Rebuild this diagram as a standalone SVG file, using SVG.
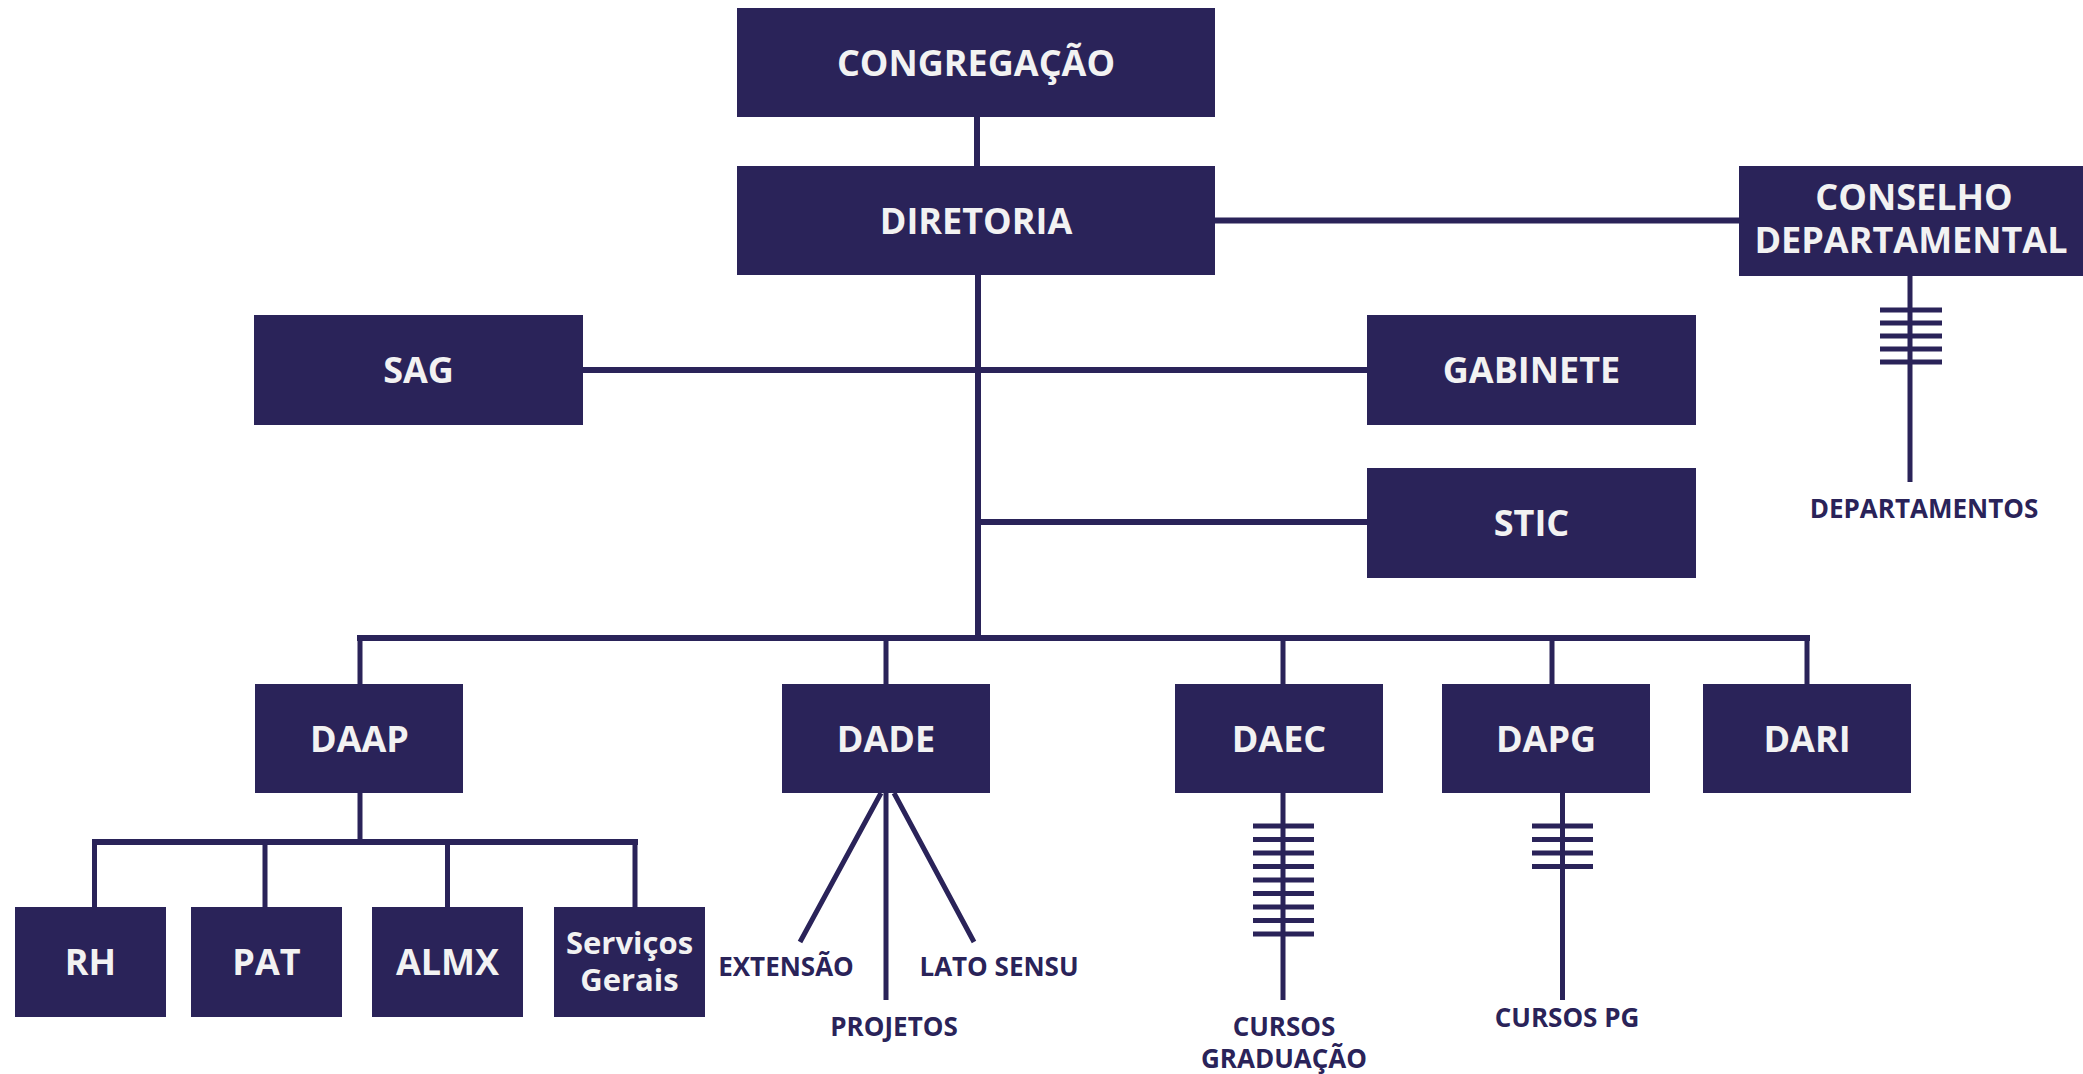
<svg xmlns="http://www.w3.org/2000/svg" width="2083" height="1074" viewBox="0 0 2083 1074">
<style>
.box{fill:#2a2359}
.bt{font-family:"Open Sans","Noto Sans",sans-serif;font-weight:700;font-size:36px;fill:#f2f2f2;text-anchor:middle}
.st{font-size:31px}
.lb{font-family:"Open Sans","Noto Sans",sans-serif;font-weight:700;font-size:26px;fill:#2a2359;text-anchor:middle}
.ln{stroke:#2a2359;stroke-width:6;fill:none}
.th{stroke-width:5}
.rung{fill:#2a2359}
</style>
<rect width="2083" height="1074" fill="#ffffff"/>
<g id="connectors">
<path class="ln" d="M977 117V166"/>
<path class="ln" d="M1215 220.5H1739"/>
<path class="ln" d="M978 275V638"/>
<path class="ln" d="M583 370H1367"/>
<path class="ln" d="M978 522H1367"/>
<path class="ln" d="M357 638H1810"/>
<path class="ln th" d="M360 638V684M886 638V684M1283 638V684M1552 638V684M1807 638V684"/>
<path class="ln th" d="M360 793V842"/>
<path class="ln" d="M92 842H638"/>
<path class="ln th" d="M94.5 842V907M265 842V907M447.5 842V907M635 842V907"/>
<path class="ln th" d="M881 793L800 942M886 793V1000M894 793L974 942"/>
<path class="ln th" d="M1283 793V1000"/>
<g class="rung">
<rect x="1253" y="823.5" width="61" height="5"/>
<rect x="1253" y="837" width="61" height="5"/>
<rect x="1253" y="850.5" width="61" height="5"/>
<rect x="1253" y="864" width="61" height="5"/>
<rect x="1253" y="877.5" width="61" height="5"/>
<rect x="1253" y="891" width="61" height="5"/>
<rect x="1253" y="904.5" width="61" height="5"/>
<rect x="1253" y="918" width="61" height="5"/>
<rect x="1253" y="931.5" width="61" height="5"/>
</g>
<path class="ln th" d="M1562.5 793V1000"/>
<g class="rung">
<rect x="1532" y="823.5" width="61" height="5"/>
<rect x="1532" y="837" width="61" height="5"/>
<rect x="1532" y="850.5" width="61" height="5"/>
<rect x="1532" y="864" width="61" height="5"/>
</g>
<path class="ln th" d="M1910 276V482"/>
<g class="rung">
<rect x="1880" y="307.5" width="62" height="5"/>
<rect x="1880" y="320.5" width="62" height="5"/>
<rect x="1880" y="333.5" width="62" height="5"/>
<rect x="1880" y="346.5" width="62" height="5"/>
<rect x="1880" y="359.5" width="62" height="5"/>
</g>
</g>
<g id="congregacao"><rect class="box" x="737" y="8" width="478" height="109"/><text class="bt" x="976" y="75.5">CONGREGAÇÃO</text></g>
<g id="diretoria"><rect class="box" x="737" y="166" width="478" height="109"/><text class="bt" x="976" y="233.5">DIRETORIA</text></g>
<g id="conselho"><rect class="box" x="1739" y="166" width="344" height="110"/><text class="bt"><tspan x="1914" y="210">CONSELHO</tspan><tspan x="1911" y="253">DEPARTAMENTAL</tspan></text></g>
<g id="sag"><rect class="box" x="254" y="315" width="329" height="110"/><text class="bt" x="418.5" y="383">SAG</text></g>
<g id="gabinete"><rect class="box" x="1367" y="315" width="329" height="110"/><text class="bt" x="1531.5" y="383">GABINETE</text></g>
<g id="stic"><rect class="box" x="1367" y="468" width="329" height="110"/><text class="bt" x="1531.5" y="536">STIC</text></g>
<g id="daap"><rect class="box" x="255" y="684" width="208" height="109"/><text class="bt" x="359.5" y="751.5">DAAP</text></g>
<g id="dade"><rect class="box" x="782" y="684" width="208" height="109"/><text class="bt" x="886" y="751.5">DADE</text></g>
<g id="daec"><rect class="box" x="1175" y="684" width="208" height="109"/><text class="bt" x="1279" y="751.5">DAEC</text></g>
<g id="dapg"><rect class="box" x="1442" y="684" width="208" height="109"/><text class="bt" x="1546" y="751.5">DAPG</text></g>
<g id="dari"><rect class="box" x="1703" y="684" width="208" height="109"/><text class="bt" x="1807" y="751.5">DARI</text></g>
<g id="rh"><rect class="box" x="15" y="907" width="151" height="110"/><text class="bt" x="90.5" y="975">RH</text></g>
<g id="pat"><rect class="box" x="191" y="907" width="151" height="110"/><text class="bt" x="266.5" y="975">PAT</text></g>
<g id="almx"><rect class="box" x="372" y="907" width="151" height="110"/><text class="bt" x="447.5" y="975">ALMX</text></g>
<g id="servicos"><rect class="box" x="554" y="907" width="151" height="110"/><text class="bt st"><tspan x="629.5" y="954">Serviços</tspan><tspan x="629.5" y="991">Gerais</tspan></text></g>
<g id="departamentos"><text class="lb" x="1924" y="518">DEPARTAMENTOS</text></g>
<g id="extensao"><text class="lb" x="786" y="976">EXTENSÃO</text></g>
<g id="lato"><text class="lb" x="999" y="976">LATO SENSU</text></g>
<g id="projetos"><text class="lb" x="894" y="1036">PROJETOS</text></g>
<g id="cursosgrad"><text class="lb"><tspan x="1284" y="1036">CURSOS</tspan><tspan x="1284" y="1068">GRADUAÇÃO</tspan></text></g>
<g id="cursospg"><text class="lb" x="1567" y="1027">CURSOS PG</text></g>
</svg>
